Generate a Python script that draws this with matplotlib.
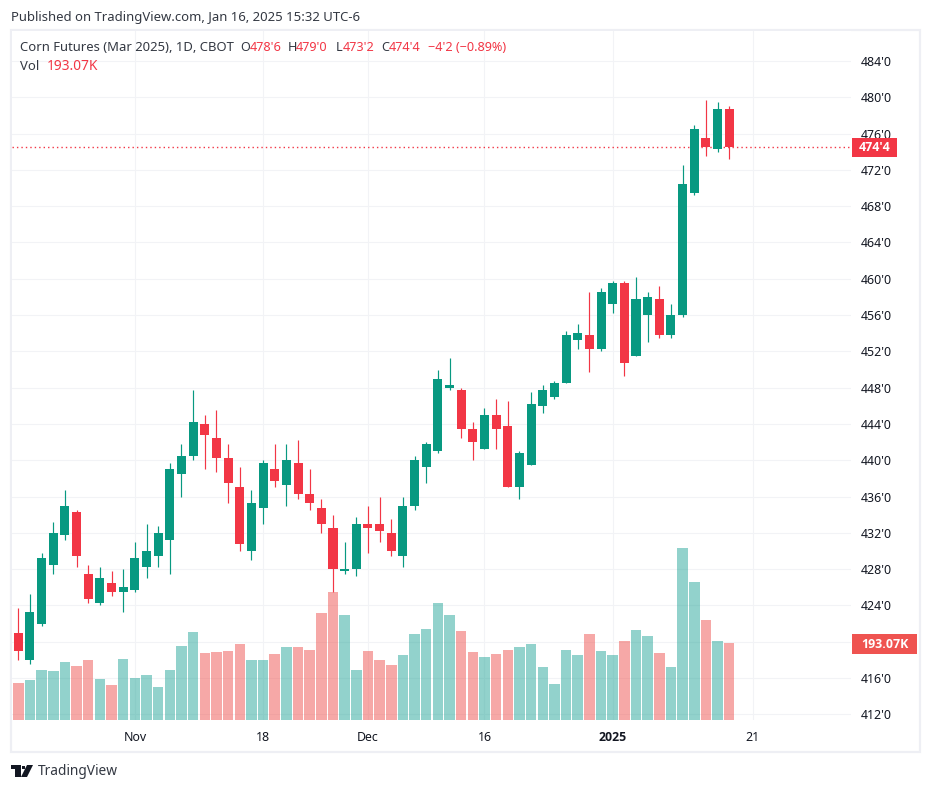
import matplotlib
matplotlib.use("Agg")
import matplotlib.pyplot as plt
from matplotlib.patches import Rectangle, Polygon

opens = [421, 418, 422, 428.5, 431.75, 434.25, 427.5, 424.25, 426.5, 425.5,
         425.75, 428.25, 429.5, 431.25, 438.5, 440.5, 444, 442.5, 440.25, 437,
         430, 434.75, 439, 437.25, 439.75, 436.25, 434.75, 432.5, 427.75, 428,
         433, 433, 432, 429.5, 435, 439.25, 441, 448, 447.75, 443.5,
         441.25, 445, 443.75, 437, 439.5, 446, 447, 448.5, 453.25, 453.75,
         452.25, 457.25, 459.5, 451.5, 456, 457.75, 453.75, 456, 469.5, 475.5,
         474.25, 478.75]
highs = [423.75, 425.25, 429.75, 433.25, 436.75, 434.5, 428.5, 428.25, 427.75, 428,
         431, 433, 432.75, 439.75, 441.75, 447.75, 445, 445.5, 441.75, 439.25,
         436.75, 440, 441.75, 441.75, 442.25, 439, 435.75, 434, 431, 433.75,
         435, 436, 433.5, 436, 440.5, 442, 450, 451.25, 448, 444.25,
         445.75, 446.75, 446.5, 441, 447.5, 448.25, 448.75, 454.25, 455, 458.5,
         459, 459.75, 459.75, 460.25, 458.5, 459.25, 457.25, 472.5, 477, 479.75,
         479.5, 479]
lows = [418, 417.5, 421.75, 427.5, 431.25, 428.25, 424.25, 424, 425, 423.25,
        425.5, 427, 428.25, 427.5, 436, 440, 439, 438.75, 435.25, 430,
        429, 433, 437, 435, 435.75, 434.5, 432, 425.5, 427.5, 427.25,
        429.75, 431, 429.5, 428.25, 434.5, 437.5, 440.75, 447.75, 442.5, 440,
        441.25, 441.25, 437, 435.75, 439.5, 445.25, 446.75, 448.5, 452.25, 449.75,
        452, 456.25, 449.25, 451.5, 453, 453.5, 453.5, 455.75, 469.25, 473.5,
        474, 473.25]
closes = [419, 423.25, 429.25, 432, 435, 429.5, 424.75, 427, 425.5, 426,
          429.25, 430, 432, 439, 440.5, 444.25, 442.75, 440.25, 437.5, 430.75,
          435.25, 439.75, 437.75, 440, 436.25, 435.25, 433, 428, 428, 433,
          432.5, 432.25, 430, 435, 440, 441.75, 449, 448.25, 443.5, 442,
          445, 443.5, 437, 440.75, 446.25, 447.75, 448.5, 453.75, 454, 452.25,
          458.5, 459.5, 450.75, 457.75, 458, 453.75, 456, 470.5, 476.5, 474.5,
          478.75, 474.5]
volumes_k = [93, 100, 125, 123, 145, 135, 150, 103, 88, 153,
             105, 113, 83, 125, 186, 221, 168, 171, 173, 191,
             150, 150, 166, 183, 183, 176, 268, 321, 263, 125,
             173, 150, 138, 163, 216, 228, 293, 263, 223, 171,
             158, 166, 176, 183, 191, 133, 90, 176, 163, 216,
             173, 163, 198, 226, 211, 168, 133, 431, 346, 251,
             198, 193.07]
offscreen_volume_k = 124
price_ticks = list(range(412, 488, 4))
hidden_price_tick = 420
time_ticks = [10, 21, 30, 40, 51, 63]
time_labels = ["Nov", "18", "Dec", "16", "2025", "21"]
last_price = 474.5
last_price_label = "474'4"
last_volume_label = "193.07K"

UP, DOWN = "#089981", "#f23645"
VUP, VDOWN = "#26a69a", "#ef5350"
GRID = "#f2f3f6"
TEXT = "#131722"
SOFT = "#333842"
FONT = "Noto Sans"
BOLD = "Open Sans"
W, H = 931, 791
plt.rcParams["font.family"] = [FONT, "DejaVu Sans"]

fig = plt.figure(figsize=(W / 100, H / 100), dpi=100, facecolor="white")


def fx(x):
    return x / W


def fy(y):
    return 1 - y / H


L, T, R, B = 12, 31, 851, 720
rect = [fx(L), fy(B), (R - L) / W, (B - T) / H]
ax = fig.add_axes(rect, zorder=1)
axv = fig.add_axes(rect, zorder=2, facecolor="none")

PX_PER_BAR = 11.655
X0 = 18.3
xlim = ((L - X0) / PX_PER_BAR, (R - X0) / PX_PER_BAR)
PX_PER_UNIT = 9.074
ylim = (480 - (B - 97.3) / PX_PER_UNIT, 480 + (97.3 - T) / PX_PER_UNIT)

idx = list(range(len(opens)))
col = [UP if c >= o else DOWN for o, c in zip(opens, closes)]
ax.vlines(idx, lows, highs, colors=col, linewidth=0.85, zorder=3)
ax.bar(idx, [max(abs(c - o), 0.12) for o, c in zip(opens, closes)],
       bottom=[min(o, c) for o, c in zip(opens, closes)],
       width=0.775, color=col, linewidth=0, zorder=4)
ax.axhline(last_price, color=DOWN, linewidth=1.0, linestyle=(0, (1, 2.2)), zorder=2)

ax.set_xlim(*xlim)
ax.set_ylim(*ylim)
ax.set_yticks(price_ticks)
ax.set_yticklabels(["" if v == hidden_price_tick else f"{v}'0" for v in price_ticks],
                   fontsize=8.9, color=TEXT)
ax.yaxis.tick_right()
ax.tick_params(axis="y", length=0, pad=7)
ax.set_xticks(time_ticks)
ax.set_xticklabels(time_labels, fontsize=8.9, color=TEXT)
ax.tick_params(axis="x", length=0, pad=8)
ax.get_xticklabels()[4].set_fontweight("bold")
ax.get_xticklabels()[4].set_fontfamily(BOLD)
ax.grid(True, color=GRID, linewidth=0.8, zorder=0)
ax.set_axisbelow(True)
for s in ax.spines.values():
    s.set_visible(False)

vcol = [VUP if c >= o else VDOWN for o, c in zip(opens, closes)]
axv.bar([-1] + idx, [offscreen_volume_k] + volumes_k, width=0.9,
        color=[VUP] + vcol, alpha=0.5, linewidth=0)
axv.set_xlim(*xlim)
axv.set_ylim(0, (B - T) / 0.3988)
axv.axis("off")

# pane border
fig.add_artist(Rectangle((fx(11), fy(752)), 909 / W, 722 / H, transform=fig.transFigure,
                         fill=False, edgecolor="#eeeff4", linewidth=1.6, zorder=0))


def txt(x, y, s, color=TEXT, size=8.9, **kw):
    fig.text(fx(x), fy(y), s, color=color, fontsize=size, va="center", ha=kw.pop("ha", "left"), **kw)


txt(11, 17, "Published on TradingView.com, Jan 16, 2025 15:32 UTC-6", color=SOFT, size=9.45)
txt(20, 47.5, "Corn Futures (Mar 2025), 1D, CBOT", color=SOFT, size=9.4)
for x, s, c in [(240, "O", SOFT), (249.5, "478'6", DOWN), (288, "H", SOFT), (296, "479'0", DOWN),
                (336, "L", SOFT), (342.5, "473'2", DOWN), (381, "C", SOFT), (389, "474'4", DOWN),
                (428, "\u22124'2 (\u22120.89%)", DOWN)]:
    txt(x, 47.5, s, color=c, size=9.1)
txt(20, 66.5, "Vol", color=SOFT, size=9.4)
txt(47, 66.5, "193.07K", color=DOWN, size=9.9)

# last-value tags on the price scale
fig.add_artist(Rectangle((fx(852), fy(157)), 45 / W, 19 / H, transform=fig.transFigure,
                         facecolor=DOWN, edgecolor="none", zorder=5))
txt(875, 147.5, last_price_label, color="white", ha="center", fontweight="bold",
    fontfamily=BOLD, zorder=6)
fig.add_artist(Rectangle((fx(852), fy(654)), 65 / W, 20 / H, transform=fig.transFigure,
                         facecolor=VDOWN, edgecolor="none", zorder=5))
txt(884.5, 644, last_volume_label, color="white", ha="center", fontweight="bold",
    fontfamily=BOLD, zorder=6)


# footer logo and wordmark
def pts(seq):
    return [(fx(a), fy(b)) for a, b in seq]


for shape in ([(11, 765), (21, 765), (21, 777), (15, 777), (15, 769), (11, 769)],
              [(27, 765), (33, 765), (27, 777), (21, 777)]):
    fig.add_artist(Polygon(pts(shape), closed=True, transform=fig.transFigure, facecolor=TEXT, edgecolor="none"))
fig.add_artist(Rectangle((fx(22), fy(769)), 3.4 / W, 3.4 / H, transform=fig.transFigure, facecolor=TEXT, edgecolor="none"))
txt(38, 771.5, "TradingView", color=SOFT, size=9.9)

fig.savefig("out.png", dpi=100, facecolor="white")
